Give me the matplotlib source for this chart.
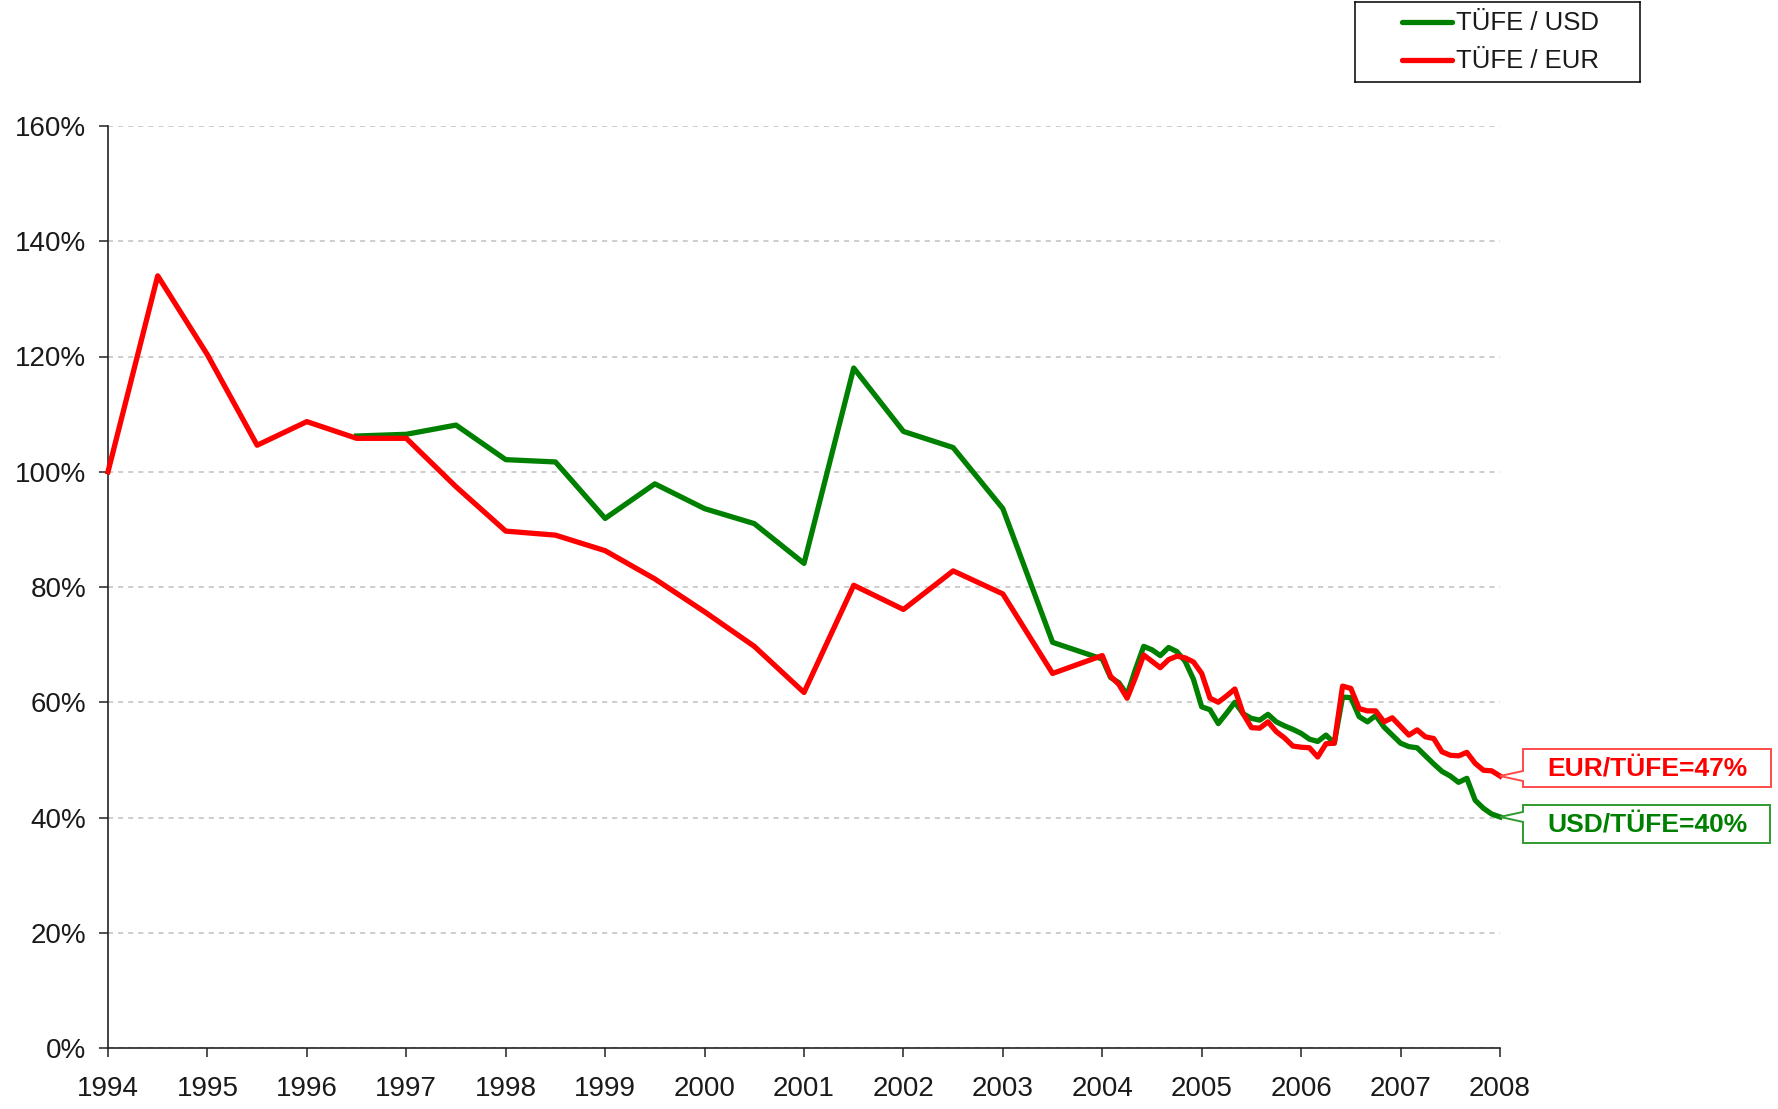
import matplotlib
matplotlib.use("Agg")
import matplotlib.pyplot as plt
from matplotlib.patches import Polygon
from matplotlib.lines import Line2D

plt.rcParams['font.family'] = ['Liberation Sans', 'DejaVu Sans']

# ---------------- data (values in %) ----------------
semi_years = [1994.0, 1994.5, 1995.0, 1995.5, 1996.0, 1996.5, 1997.0, 1997.5,
              1998.0, 1998.5, 1999.0, 1999.5, 2000.0, 2000.5, 2001.0, 2001.5,
              2002.0, 2002.5, 2003.0, 2003.5]
monthly_years = [2004 + m / 12 for m in range(49)]   # Jan 2004 ... Jan 2008

eur_semi = [100.0, 134.0, 120.3, 104.6, 108.7, 105.8, 105.8, 97.4,
            89.7, 89.0, 86.3, 81.4, 75.7, 69.7, 61.7, 80.3,
            76.1, 82.8, 78.8, 65.0]
eur_monthly = [68.1, 64.5, 63.1, 60.7, 64.3, 68.2, 67.1, 66.0, 67.4, 68.0,
               67.7, 67.0, 65.0, 60.7, 60.0, 61.1, 62.3, 58.0, 55.6, 55.5,
               56.6, 54.9, 53.8, 52.4, 52.2, 52.1, 50.5, 52.8, 52.9, 62.8,
               62.4, 58.9, 58.5, 58.5, 56.6, 57.3, 55.8, 54.3, 55.2, 54.0,
               53.7, 51.4, 50.8, 50.7, 51.3, 49.4, 48.2, 48.1, 47.2]

usd_semi_years = semi_years[5:]
usd_semi = [106.2, 106.5, 108.1, 102.1, 101.7, 91.9, 97.9, 93.6, 91.0, 84.1,
            118.0, 107.0, 104.2, 93.6, 70.4]
usd_monthly = [67.5, 64.3, 63.4, 61.3, 65.7, 69.7, 69.1, 68.1, 69.5, 68.8,
               67.1, 64.0, 59.2, 58.7, 56.3, 58.1, 60.0, 58.0, 57.2, 56.9,
               57.9, 56.6, 55.9, 55.3, 54.6, 53.6, 53.2, 54.3, 52.9, 60.9,
               60.8, 57.5, 56.6, 57.7, 55.7, 54.3, 52.9, 52.3, 52.1, 50.7,
               49.3, 48.0, 47.2, 46.1, 46.8, 43.0, 41.6, 40.6, 40.1]

series_labels = ['TÜFE / USD', 'TÜFE / EUR']
callout_labels = ['USD/TÜFE=40%', 'EUR/TÜFE=47%']
x_ticks = list(range(1994, 2009))
y_ticks = [0, 20, 40, 60, 80, 100, 120, 140, 160]

GREEN = '#008000'
RED = '#ff0000'

W, H = 1778, 1109
fig = plt.figure(figsize=(W / 100, H / 100), dpi=100)
ax = fig.add_axes([108 / W, 1 - 1048 / H, (1500 - 108) / W, (1048 - 126) / H])

x_usd = usd_semi_years + monthly_years
y_usd = usd_semi + usd_monthly
x_eur = semi_years + monthly_years
y_eur = eur_semi + eur_monthly

ax.plot(x_usd, y_usd, color=GREEN, lw=3.8, solid_joinstyle='round', clip_on=False, zorder=3)
ax.plot(x_eur, y_eur, color=RED, lw=3.8, solid_joinstyle='round', clip_on=False, zorder=4)

ax.set_xlim(1994, 2008)
ax.set_ylim(0, 160)
ax.set_xticks(x_ticks)
ax.set_xticklabels([str(v) for v in x_ticks])
ax.set_yticks(y_ticks)
ax.set_yticklabels([f'{v}%' for v in y_ticks])

ax.yaxis.grid(True, color='#c0c0c0', linestyle=(0, (3.3, 3.3)), linewidth=1.1)
ax.set_axisbelow(True)
for s in ['top', 'right']:
    ax.spines[s].set_visible(False)
for s in ['left', 'bottom']:
    ax.spines[s].set_color('#222222')
    ax.spines[s].set_linewidth(1.2)
ax.tick_params(axis='both', direction='out', length=6.5, width=1.1, color='#222222',
               labelsize=20, labelcolor='#1a1a1a')
ax.tick_params(axis='y', pad=9)
ax.tick_params(axis='x', pad=14)

# ---------------- legend (manual box) ----------------
lx0, ly0, lx1, ly1 = 1355, 2, 1640, 82
lax = fig.add_axes([lx0 / W, 1 - ly1 / H, (lx1 - lx0) / W, (ly1 - ly0) / H])
lax.set_xlim(0, lx1 - lx0)
lax.set_ylim(ly1 - ly0, 0)
lax.set_xticks([])
lax.set_yticks([])
for s in lax.spines.values():
    s.set_color('black')
    s.set_linewidth(1.1)
for yy, col, lab in [(19.5, GREEN, series_labels[0]), (58, RED, series_labels[1])]:
    lax.add_line(Line2D([47, 97], [yy, yy], color=col, lw=3.8, solid_capstyle='round'))
    lax.text(101, yy + 1, lab, fontsize=18.5, va='center', ha='left', color='#1a1a1a')

# ---------------- callouts ----------------
fig.canvas.draw()
inv = fig.transFigure.inverted()


def px(xi, yi):
    return (xi / W, 1 - yi / H)


def callout(xdata, ydata, box, text, tcol, ecol):
    bx0, by0, bx1, by1 = box
    disp = ax.transData.transform((xdata, ydata))
    fx, fy = inv.transform(disp)
    ay = (1 - fy) * H
    ax_px = fx * W
    b1 = max(by0 + 3, ay - 5)
    b2 = min(by1 - 3, ay + 5)
    pts = [px(bx0, by0), px(bx1, by0), px(bx1, by1), px(bx0, by1),
           px(bx0, b2), px(ax_px, ay), px(bx0, b1)]
    poly = Polygon(pts, closed=True, transform=fig.transFigure, facecolor='white',
                   edgecolor=ecol, linewidth=1.4, zorder=10)
    fig.add_artist(poly)
    fig.text((bx0 + bx1) / 2 / W + 0.5 / W, 1 - (by0 + by1) / 2 / H, text, color=tcol,
             fontsize=19, fontweight='bold', ha='center', va='center', zorder=11)


callout(x_eur[-1], y_eur[-1], (1523, 749, 1771, 787), callout_labels[1], RED, '#ff4a4a')
callout(x_usd[-1], y_usd[-1], (1523, 805, 1770, 843), callout_labels[0], GREEN, '#2f9a2f')

fig.savefig('out.png', dpi=100)
